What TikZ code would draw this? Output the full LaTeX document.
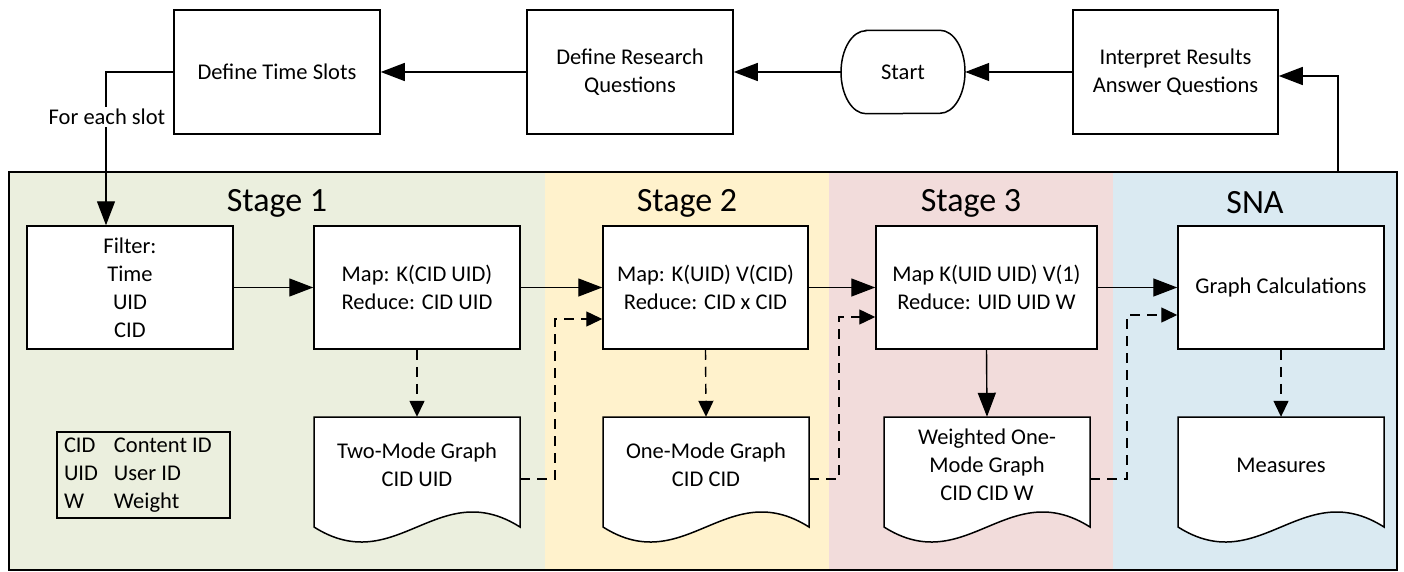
\documentclass[tikz,border=0pt]{standalone}
\usepackage{fontspec}
\setmainfont{Carlito}
\usetikzlibrary{arrows.meta,calc}
\definecolor{laneA}{RGB}{235,239,222}
\definecolor{laneB}{RGB}{255,242,204}
\definecolor{laneC}{RGB}{242,220,219}
\definecolor{laneD}{RGB}{218,234,242}
\newcommand{\docshape}[1]{%
  \draw[line width=1.5pt,fill=white] (#1,417) ++(-103,0) -- ++(206,0) -- ++(0,110)
    .. controls +(-82,-52) and +(82,52) .. ++(-206,0) -- cycle;}
\begin{document}
\begin{tikzpicture}[x=1pt,y=-1pt,
  txt/.style={font=\fontsize{22.5}{28}\selectfont,align=center},
  box/.style={txt,draw,fill=white,line width=1.5pt,inner sep=0pt},
  conn/.style={line width=1.4pt,-{Triangle[length=24pt,width=18pt]}},
  dconn/.style={line width=1.4pt,dash pattern=on 10pt off 7pt,-{Triangle[length=16pt,width=15pt]}},
  stagelbl/.style={font=\fontsize{34}{40}\selectfont}]
\useasboundingbox (0,0) rectangle (1404,572);
% lanes
\fill[laneA] (9,172) rectangle (545,570);
\fill[laneB] (545,172) rectangle (829,570);
\fill[laneC] (829,172) rectangle (1113,570);
\fill[laneD] (1113,172) rectangle (1397,570);
\draw[line width=2.2pt] (9,172) rectangle (1397,570);
% stage labels
\node[stagelbl] (s1) at (277,203) {Stage 1};
\node[stagelbl] (s2) at (687,203) {Stage 2};
\node[stagelbl] (s3) at (971,203) {Stage 3};
\node[stagelbl] (s4) at (1255,203) {SNA};
% top row
\node[box,minimum width=206pt,minimum height=124pt] (dts) at (277,72) {Define Time Slots};
\node[box,minimum width=206pt,minimum height=124pt] (drq) at (630,72) {Define Research\\Questions};
\node[txt,minimum width=124pt,minimum height=83pt,inner sep=0pt] (start) at (903,72) {Start};
\draw[line width=1.5pt] ([xshift=-37pt]start.north) -- ([xshift=37pt]start.north)
  arc[start angle=90,end angle=-90,x radius=25pt,y radius=41.5pt]
  -- ([xshift=-37pt]start.south)
  arc[start angle=270,end angle=90,x radius=25pt,y radius=41.5pt] -- cycle;
\node[box,minimum width=205pt,minimum height=124pt] (interp) at (1175.5,72) {Interpret Results\\Answer Questions};
% process row
\node[box,minimum width=206pt,minimum height=123pt] (filter) at (130,287.5) {Filter:\\Time\\UID\\CID};
\node[box,minimum width=206pt,minimum height=123pt] (map1) at (417,287.5) {Map: K(CID UID)\\Reduce: CID UID};
\node[box,minimum width=205pt,minimum height=123pt] (map2) at (705.5,287.5) {Map: K(UID) V(CID)\\Reduce: CID x CID};
\node[box,minimum width=221pt,minimum height=123pt] (map3) at (986.5,287.5) {Map K(UID UID) V(1)\\Reduce: UID UID W};
\node[box,minimum width=206pt,minimum height=123pt] (gc) at (1281,287.5) {Graph Calculations};
% documents
\docshape{417}
\docshape{706}
\docshape{987}
\docshape{1281}
\node[txt,minimum width=206pt,minimum height=96pt,inner sep=0pt] (d1) at (417,465) {Two-Mode Graph\\CID UID};
\node[txt,minimum width=206pt,minimum height=96pt,inner sep=0pt] (d2) at (706,465) {One-Mode Graph\\CID CID};
\node[txt,minimum width=206pt,minimum height=96pt,inner sep=0pt] (d3) at (987,465) {Weighted One-\\Mode Graph\\CID CID W};
\node[txt,minimum width=206pt,minimum height=96pt,inner sep=0pt] (d4) at (1281,465) {Measures};
% legend
\node[txt,draw,line width=1.2pt,minimum width=173pt,minimum height=86pt,inner sep=0pt] (legend) at (143.5,475)
  {\begin{tabular}{@{}p{50pt}@{}p{109pt}@{}}CID & Content ID\\ UID & User ID\\ W & Weight\end{tabular}};
% top connectors
\draw[conn] (interp.west) -- (start.east);
\draw[conn] (start.west) -- (drq.east);
\draw[conn] (drq.west) -- (dts.east);
\coordinate (ret) at (1338,172);
\draw[conn] (ret) |- ([yshift=-4pt]interp.east);
\coordinate (fe) at (106,72);
\draw[conn] (dts.west) -- (fe) -- ([xshift=-24pt]filter.north);
\node[txt,fill=white,inner sep=2pt] (slot) at (107,117) {For each slot};
% process connectors
\draw[conn] (filter.east) -- (map1.west);
\draw[conn] (map1.east) -- (map2.west);
\draw[conn] (map2.east) -- (map3.west);
\draw[conn] (map3.east) -- (gc.west);
\draw[dconn] (map1.south) -- (d1.north);
\draw[dconn] (map2.south) -- (d2.north);
\draw[conn] (map3.south) -- (d3.north);
\draw[dconn] (gc.south) -- (d4.north);
\coordinate (j1) at (555,319);
\coordinate (j2) at (839,317);
\coordinate (j3) at (1127,315);
\draw[dconn] ([yshift=-14pt]d1.east) -| (j1) -- ([yshift=-31.5pt]map2.west);
\draw[dconn] ([yshift=-14pt]d2.east) -| (j2) -- ([yshift=-29.5pt]map3.west);
\draw[dconn] ([yshift=-14pt]d3.east) -| (j3) -- ([yshift=-27.5pt]gc.west);
\end{tikzpicture}
\end{document}
